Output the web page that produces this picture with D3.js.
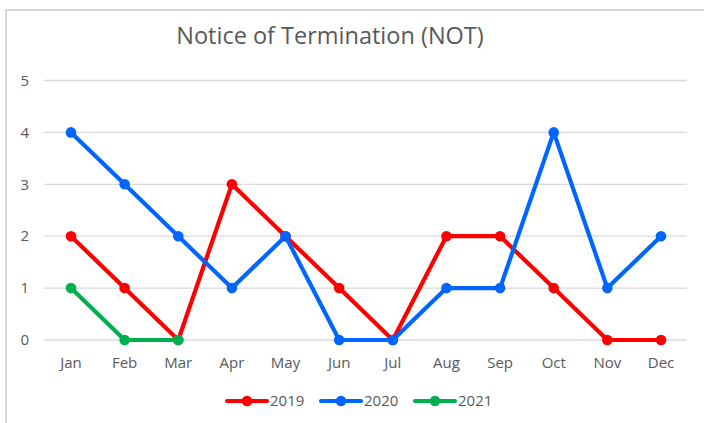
<!DOCTYPE html>
<html>
<head>
<meta charset="utf-8">
<script src="https://cdn.jsdelivr.net/npm/d3@7"></script>
<style>
body { margin: 0; background: #fff; }
text { font-family: "Open Sans", "Noto Sans", sans-serif; fill: #595959; }
</style>
</head>
<body>
<script>
var months = ["Jan", "Feb", "Mar", "Apr", "May", "Jun", "Jul", "Aug", "Sep", "Oct", "Nov", "Dec"];
var yTicks = [0, 1, 2, 3, 4, 5];
var years = ["2019", "2020", "2021"];
var colors = ["#ff0000", "#0066ff", "#00b050"];
var values2019 = [2, 1, 0, 3, 2, 1, 0, 2, 2, 1, 0, 0];
var values2020 = [4, 3, 2, 1, 2, 0, 0, 1, 1, 4, 1, 2];
var values2021 = [1, 0, 0];

var series = [values2019, values2020, values2021];

var svg = d3.select("body").append("svg")
    .attr("width", 704)
    .attr("height", 423);

// outer frame
svg.append("rect")
    .attr("x", 6).attr("y", 10)
    .attr("width", 710).attr("height", 430)
    .style("fill", "none")
    .style("stroke", "#d9d9d9")
    .style("stroke-width", 2);

var x = d3.scalePoint().domain(months).range([71, 661]);
var y = d3.scaleLinear().domain([0, 5]).range([340, 80.5]);

// gridlines
svg.selectAll(".grid")
    .data(yTicks)
    .enter()
    .append("line")
    .attr("x1", 44).attr("x2", 687)
    .attr("y1", function (d) { return y(d); })
    .attr("y2", function (d) { return y(d); })
    .style("stroke", "#d9d9d9")
    .style("stroke-width", 1.3);

svg.selectAll(".ylab")
    .data(yTicks)
    .enter()
    .append("text")
    .attr("x", 29)
    .attr("y", function (d) { return y(d); })
    .attr("dy", "0.35em")
    .attr("text-anchor", "end")
    .style("font-size", "15px")
    .text(function (d) { return d; });

svg.selectAll(".xlab")
    .data(months)
    .enter()
    .append("text")
    .attr("x", function (d) { return x(d); })
    .attr("y", 368)
    .attr("text-anchor", "middle")
    .style("font-size", "15px")
    .text(function (d) { return d; });

svg.append("text")
    .attr("x", 330)
    .attr("y", 44)
    .attr("text-anchor", "middle")
    .style("font-size", "23.5px")
    .text("Notice of Termination (NOT)");

var line = d3.line()
    .x(function (d, i) { return x(months[i]); })
    .y(function (d) { return y(d); });

series.forEach(function (vals, s) {
    svg.append("path")
        .datum(vals)
        .attr("d", line)
        .style("fill", "none")
        .style("stroke", colors[s])
        .style("stroke-width", 4.2)
        .style("stroke-linejoin", "round");

    svg.selectAll(".pt" + s)
        .data(vals)
        .enter()
        .append("circle")
        .attr("cx", function (d, i) { return x(months[i]); })
        .attr("cy", function (d) { return y(d); })
        .attr("r", 5.3)
        .style("fill", colors[s]);
});

// legend
var legendX = [227, 321, 415];
var legend = svg.selectAll(".legend")
    .data(years)
    .enter()
    .append("g")
    .attr("transform", function (d, i) { return "translate(" + legendX[i] + ",401)"; });

legend.append("line")
    .attr("x1", 0).attr("x2", 40)
    .attr("y1", 0).attr("y2", 0)
    .style("stroke", function (d, i) { return colors[i]; })
    .style("stroke-width", 4.2)
    .style("stroke-linecap", "round");

legend.append("circle")
    .attr("cx", 20).attr("cy", 0).attr("r", 5.3)
    .style("fill", function (d, i) { return colors[i]; });

legend.append("text")
    .attr("x", 43)
    .attr("dy", "0.35em")
    .style("font-size", "15px")
    .text(function (d) { return d; });
</script>
</body>
</html>
